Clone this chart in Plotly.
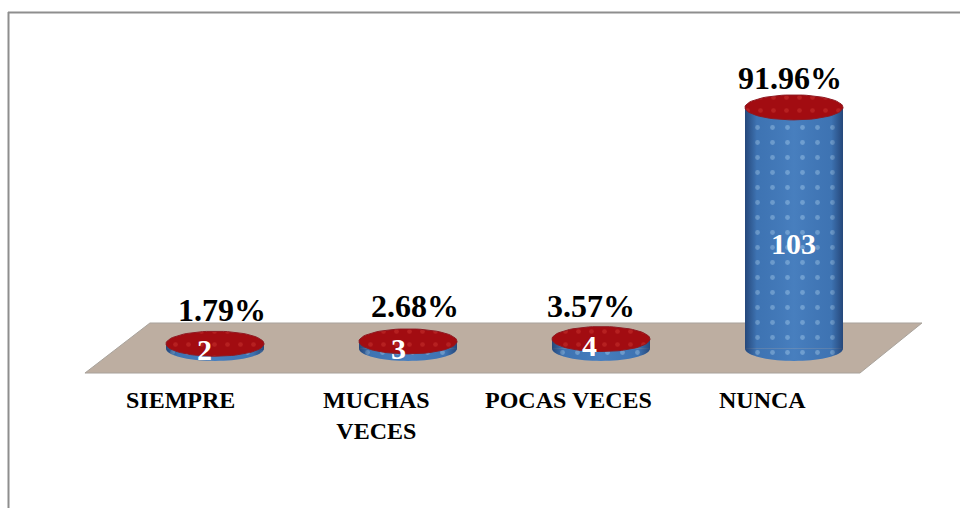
"""Gráfico de cilindros: frecuencia por categoría, con plataforma en perspectiva."""

import numpy as np
import plotly.graph_objects as go

# ── Datos ──────────────────────────────────────────────
CATEGORIES = ["SIEMPRE", "MUCHAS<br>VECES", "POCAS VECES", "NUNCA"]
COUNTS = [2, 3, 4, 103]
PERCENTS = ["1.79%", "2.68%", "3.57%", "91.96%"]

# ── Estilo ─────────────────────────────────────────────
FONT = "Liberation Serif"
BODY_BLUE = "#4179BA"
DOT_BLUE = "rgba(200,230,250,0.7)"
TOP_RED = "#A20C11"
DOT_RED = "#C9342F"
FLOOR = "#BDAEA1"
FRAME = "#8E8E8E"

# Escalas: px por categoría / px por unidad, y posición del origen
W, H = 960, 508
PX_X, X0_PX = 193.0, 215.0
PX_Y, Y0_PX = 2.34, 348.4
BAR_W = 98 / PX_X
ELL_RX = BAR_W / 2
ELL_RY = 12.5 / PX_Y

# Posición de etiquetas (px)
PCT_DX = [7, 7, -10, -4]
PCT_Y_PX = [310, 306, 306, 78]
COUNT_DX = [-11, -10, -12, -1]
COUNT_Y_PX = [349, 348, 345, 243]
CAT_DX = [-35, -32, -33, -32]
CAT_TOP_PX = 385

x_idx = list(range(len(COUNTS)))
t = np.linspace(0, 2 * np.pi, 73)
t_low = np.linspace(np.pi, 2 * np.pi, 37)


def label(px, py, text, size, color, yanchor="middle"):
    return dict(
        x=px / W, y=1 - py / H, xref="paper", yref="paper",
        xanchor="center", yanchor=yanchor, align="center",
        text=f"<b>{text}</b>", showarrow=False,
        font=dict(family=FONT, size=size, color=color),
    )


fig = go.Figure()

# cuerpo de los cilindros
fig.add_trace(go.Bar(
    x=x_idx,
    y=COUNTS,
    width=BAR_W,
    marker=dict(
        color=BODY_BLUE,
        line_width=0,
        pattern=dict(shape=".", fgcolor=DOT_BLUE, bgcolor=BODY_BLUE, size=15, solidity=0.08),
    ),
    hoverinfo="x+y",
))

for i, v in zip(x_idx, COUNTS):
    # base curva del cilindro (solo la mitad inferior)
    fig.add_trace(go.Scatter(
        x=i + ELL_RX * np.cos(t_low),
        y=ELL_RY * np.sin(t_low),
        mode="none",
        fill="toself",
        fillcolor=BODY_BLUE,
        fillpattern=dict(shape=".", fgcolor=DOT_BLUE, bgcolor=BODY_BLUE, size=15, solidity=0.08),
        hoverinfo="skip",
    ))
    # sombreado lateral
    xs = np.concatenate([i + ELL_RX * np.cos(t_low), [i + ELL_RX, i - ELL_RX]])
    ys = np.concatenate([ELL_RY * np.sin(t_low), [v, v]])
    fig.add_trace(go.Scatter(
        x=xs,
        y=ys,
        mode="none",
        fill="toself",
        fillgradient=dict(
            type="horizontal",
            colorscale=[
                [0.0, "rgba(25,50,95,0.7)"],
                [0.12, "rgba(25,50,95,0.08)"],
                [0.5, "rgba(120,170,225,0.12)"],
                [0.88, "rgba(25,50,95,0.08)"],
                [1.0, "rgba(25,50,95,0.7)"],
            ],
        ),
        hoverinfo="skip",
    ))
    # tapa superior
    fig.add_trace(go.Scatter(
        x=i + ELL_RX * np.cos(t),
        y=v + ELL_RY * np.sin(t),
        mode="lines",
        line=dict(color="#8E1A22", width=1),
        fill="toself",
        fillcolor=TOP_RED,
        fillpattern=dict(shape=".", fgcolor=DOT_RED, bgcolor=TOP_RED, size=13, solidity=0.1),
        hoverinfo="skip",
    ))

annotations = []
for i, v in zip(x_idx, COUNTS):
    cx = X0_PX + i * PX_X
    annotations.append(label(cx + PCT_DX[i], PCT_Y_PX[i], PERCENTS[i], 32, "black"))
    annotations.append(label(cx + COUNT_DX[i], COUNT_Y_PX[i], v, 30, "white"))
    annotations.append(label(cx + CAT_DX[i], CAT_TOP_PX, CATEGORIES[i], 24, "black", yanchor="top"))

# plataforma y marco (px de la página pasados a fracción)
floor_pts = [(85, 373), (150, 323), (922, 323), (860, 373)]
floor_path = "M " + " L ".join(f"{px / W:.4f},{1 - py / H:.4f}" for px, py in floor_pts) + " Z"
shapes = [
    dict(type="path", xref="paper", yref="paper", path=floor_path, fillcolor=FLOOR,
         line=dict(color="#A9A39C", width=1), layer="below"),
    dict(type="line", xref="paper", yref="paper", x0=8 / W, x1=1, y0=1 - 12.5 / H, y1=1 - 12.5 / H,
         line=dict(color=FRAME, width=2)),
    dict(type="line", xref="paper", yref="paper", x0=8.5 / W, x1=8.5 / W, y0=0, y1=1 - 12 / H,
         line=dict(color=FRAME, width=2)),
]

fig.update_layout(
    width=W,
    height=H,
    margin=dict(l=0, r=0, t=0, b=0),
    paper_bgcolor="white",
    plot_bgcolor="rgba(0,0,0,0)",
    showlegend=False,
    xaxis=dict(visible=False, range=[-X0_PX / PX_X, (W - X0_PX) / PX_X]),
    yaxis=dict(visible=False, range=[-(H - Y0_PX) / PX_Y, Y0_PX / PX_Y]),
    annotations=annotations,
    shapes=shapes,
)

# sin el margen por defecto del body ni la barra de herramientas
fig.write_html(
    "out.html",
    config={"displayModeBar": False},
    post_script="document.body.style.margin='0';",
)
